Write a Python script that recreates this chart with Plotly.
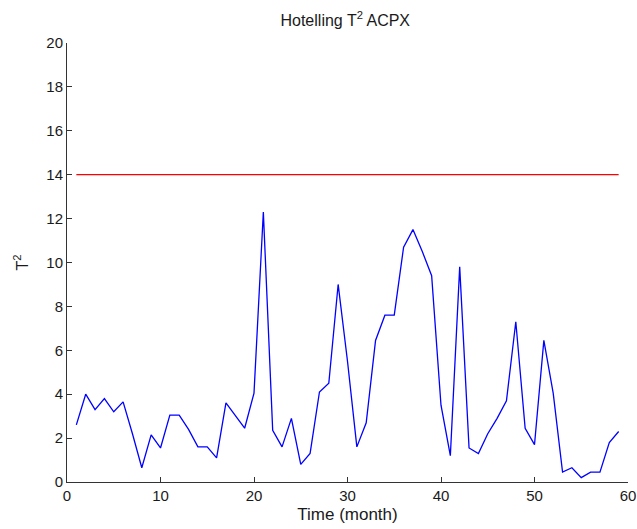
import plotly.graph_objects as go

# Hotelling T^2 statistic per month
months = list(range(1, 60))
t2 = [2.6, 4.0, 3.3, 3.8, 3.2, 3.65, 2.2, 0.65, 2.15, 1.55,
      3.05, 3.05, 2.4, 1.6, 1.6, 1.1, 3.6, 3.0, 2.45, 4.05,
      12.3, 2.35, 1.6, 2.9, 0.8, 1.3, 4.1, 4.5, 9.0, 5.5,
      1.6, 2.7, 6.45, 7.6, 7.6, 10.7, 11.5, 10.5, 9.4, 3.5,
      1.2, 9.8, 1.55, 1.3, 2.2, 2.9, 3.7, 7.3, 2.45, 1.7,
      6.45, 4.05, 0.45, 0.65, 0.2, 0.45, 0.45, 1.8, 2.3]
limit = 14.0

fig = go.Figure()

fig.add_trace(go.Scatter(
    x=months, y=t2, mode="lines",
    line=dict(color="#0000ff", width=1.3),
    showlegend=False,
))

fig.add_trace(go.Scatter(
    x=[months[0], months[-1]], y=[limit, limit], mode="lines",
    line=dict(color="#ff0000", width=1.3),
    showlegend=False,
))

axis_style = dict(
    showgrid=False, zeroline=False, automargin=False,
    showline=True, linecolor="#333333", linewidth=1, mirror=False,
    ticks="inside", ticklen=5, tickcolor="#333333",
    tickfont=dict(size=15, color="#1a1a1a"),
    ticklabeloverflow="allow",
)

fig.update_layout(
    width=637, height=529,
    margin=dict(l=67, r=9, t=43, b=47),
    paper_bgcolor="white", plot_bgcolor="white",
    font=dict(family="Liberation Sans, Arial, sans-serif", color="#1a1a1a"),
    title=dict(text="Hotelling T<sup>2</sup> ACPX", x=0.542, xanchor="center",
               y=0.962, yanchor="middle", font=dict(size=16, color="#1a1a1a")),
    xaxis=dict(range=[0, 60], dtick=10,
               title=dict(text="Time (month)", font=dict(size=17), standoff=5),
               **axis_style),
    yaxis=dict(range=[0, 20], dtick=2,
               title=dict(text="T<sup>2</sup>", font=dict(size=16), standoff=13),
               **axis_style),
)

# drop the default 8px body margin so the figure fills the window
fig.write_html("out.html",
               config={"displayModeBar": False},
               post_script="document.body.style.margin='0';")
